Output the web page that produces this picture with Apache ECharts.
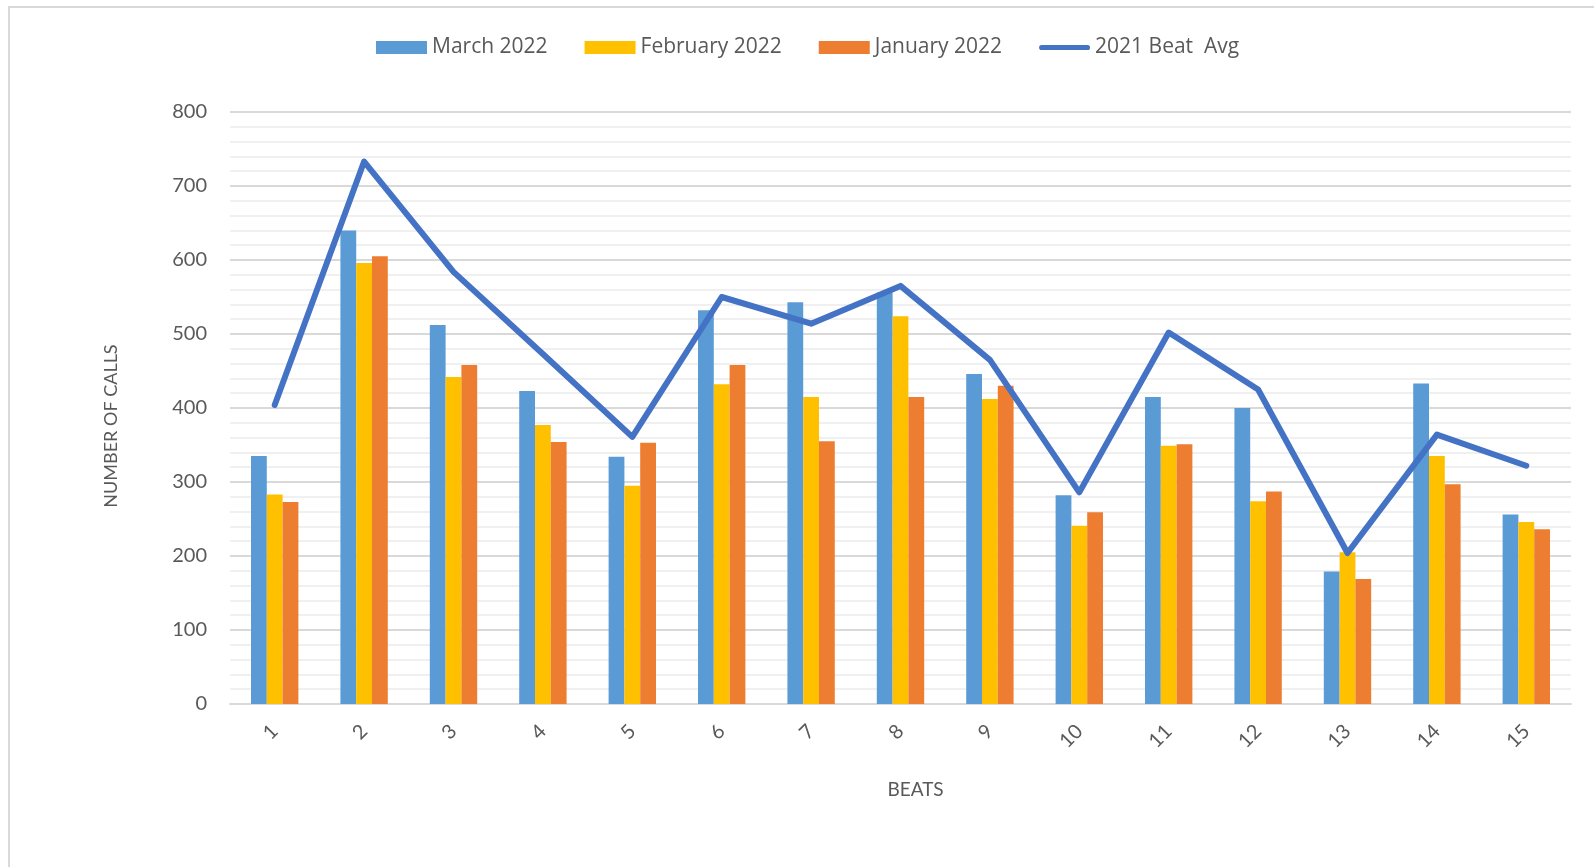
<!DOCTYPE html>
<html lang="en">
<head>
	<meta charset="UTF-8">
	<title>Beats - number of calls</title>
	<style>
		body { margin: 0; background: #fff; }
		#frame { position: absolute; left: 8px; top: 6px; width: 1700px; height: 1000px; border-left: 2px solid #d9d9d9; border-top: 2px solid #d9d9d9; }
		#chart { position: absolute; left: 0; top: 0; width: 1594px; height: 867px; }
	</style>
</head>
<body>
<div id="frame"></div>
<div id="chart"></div>
<script src="https://cdn.jsdelivr.net/npm/echarts@6/dist/echarts.min.js"></script>
<script>
	var beats = ['1', '2', '3', '4', '5', '6', '7', '8', '9', '10', '11', '12', '13', '14', '15'];
	var march = [335, 640, 512, 423, 334, 532, 543, 556, 446, 282, 415, 400, 179, 433, 256];
	var february = [283, 596, 442, 377, 295, 432, 415, 524, 412, 241, 349, 274, 205, 335, 246];
	var january = [273, 605, 458, 354, 353, 458, 355, 415, 430, 259, 351, 287, 169, 297, 236];
	var beatAvg = [404, 733, 584, 473, 361, 550, 514, 565, 465, 286, 502, 425, 204, 364, 322];

	var font = 'Lato';
	var textColor = '#595959';

	var myChart = echarts.init(document.getElementById('chart'));

	function barSeries(name, color, data) {
		return {
			name: name,
			type: 'bar',
			barGap: '0%',
			barCategoryGap: '47%',
			itemStyle: { color: color },
			data: data
		};
	}

	// thick line with round ends for the legend of the line series
	var lineIcon = 'path://M3,0 H57 A3,3 0 0 1 57,6 H3 A3,3 0 0 1 3,0 Z';

	var option = {
		animation: false,
		textStyle: { fontFamily: font, color: textColor },
		legend: {
			left: 371,
			top: 32,
			itemWidth: 51,
			itemHeight: 13,
			itemGap: 37,
			textStyle: { fontFamily: 'Open Sans', fontSize: 21, color: textColor, padding: [0, 0, 0, 0] },
			data: [
				{ name: 'March 2022', icon: 'rect' },
				{ name: 'February 2022', icon: 'rect' },
				{ name: 'January 2022', icon: 'rect' },
				{ name: '2021 Beat  Avg', icon: lineIcon }
			]
		},
		grid: { left: 230, right: 23, top: 112, bottom: 163 },
		xAxis: {
			type: 'category',
			data: beats,
			name: 'BEATS',
			nameLocation: 'middle',
			nameGap: 76,
			nameTextStyle: { fontFamily: font, fontSize: 19, color: textColor, padding: [0, 0, 0, 30] },
			axisLine: { lineStyle: { color: '#d9d9d9', width: 2 } },
			axisTick: { length: 7, lineStyle: { color: '#d9d9d9', width: 2 } },
			axisLabel: { rotate: 45, margin: 24, fontFamily: font, fontSize: 20, color: textColor }
		},
		yAxis: {
			type: 'value',
			min: 0,
			max: 800,
			interval: 100,
			name: 'NUMBER OF CALLS',
			nameLocation: 'middle',
			nameGap: 110,
			nameTextStyle: { fontFamily: font, fontSize: 18, color: textColor, padding: [0, 36, 0, 0] },
			axisLine: { show: false },
			axisTick: { show: false },
			axisLabel: { margin: 23, fontFamily: font, fontSize: 20, color: textColor },
			splitLine: { lineStyle: { color: '#d9d9d9', width: 2 } },
			minorTick: { show: false, splitNumber: 5 },
			minorSplitLine: { show: true, lineStyle: { color: '#f0f0f0', width: 2 } }
		},
		series: [
			barSeries('March 2022', '#5b9bd5', march),
			barSeries('February 2022', '#ffc000', february),
			barSeries('January 2022', '#ed7d31', january),
			{
				name: '2021 Beat  Avg',
				type: 'line',
				symbol: 'none',
				color: '#4472c4',
				lineStyle: { color: '#4472c4', width: 6, cap: 'round', join: 'round' },
				data: beatAvg
			}
		]
	};

	myChart.setOption(option);
</script>
</body>
</html>
